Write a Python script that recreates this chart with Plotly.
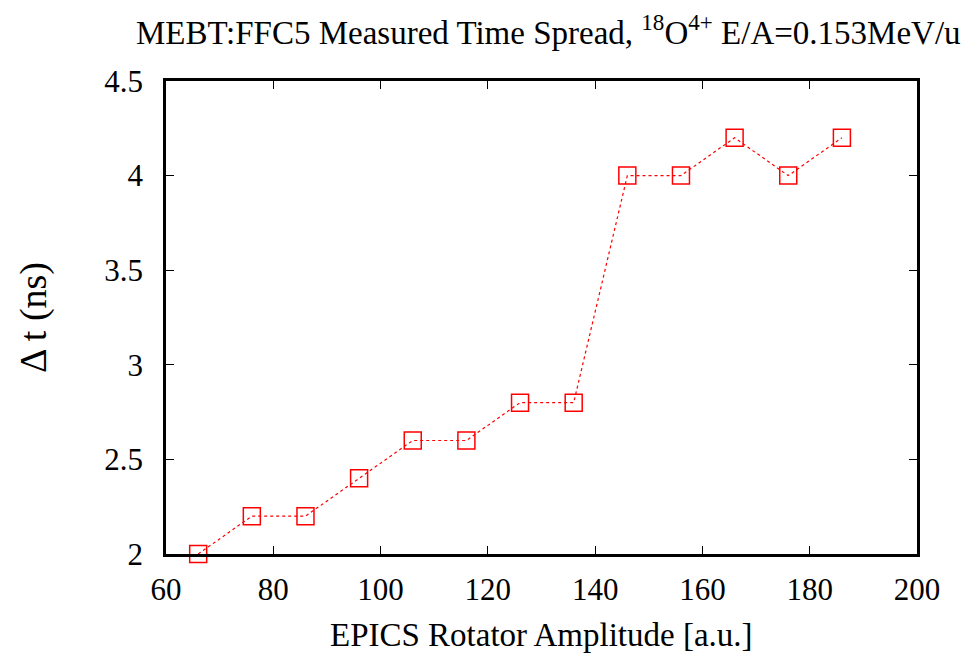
import plotly.graph_objects as go

amplitude = [66, 76, 86, 96, 106, 116, 126, 136, 146, 156, 166, 176, 186]
time_spread = [2.0, 2.2, 2.2, 2.4, 2.6, 2.6, 2.8, 2.8, 4.0, 4.0, 4.2, 4.0, 4.2]

x_ticks = [60, 80, 100, 120, 140, 160, 180, 200]
y_ticks = [2, 2.5, 3, 3.5, 4, 4.5]
y_tick_text = ["2", "2.5", "3", "3.5", "4", "4.5"]

font_family = "Liberation Serif, Times New Roman, serif"

# page body has an 8px margin; compensate so the plot lands where the reference has it
OFF = 8
L, R, T, B = 166 - OFF, 974 - 917 + OFF, 81 - OFF, 659 - 554 + OFF
W, H = 974, 659
pw, ph = W - L - R, H - T - B


def px_to_paper_x(ax):
    return (ax - OFF - L) / pw


def px_to_paper_y(ay):
    return (H - B - (ay - OFF)) / ph


fig = go.Figure()
fig.add_trace(go.Scatter(
    x=amplitude, y=time_spread, mode="lines+markers",
    line=dict(color="red", width=1.2, dash="dot"),
    marker=dict(symbol="square-open", size=17, color="red", line=dict(width=1.5, color="red")),
    showlegend=False, cliponaxis=False,
))

axis_common = dict(
    showgrid=False, zeroline=False, showline=True, linecolor="black", linewidth=2.5,
    mirror="ticks", ticks="inside", ticklen=8, tickwidth=1.2, tickcolor="black",
    tickfont=dict(family=font_family, size=31, color="black"),
)

fig.update_layout(
    width=W, height=H,
    paper_bgcolor="white", plot_bgcolor="white",
    margin=dict(l=L, r=R, t=T, b=B),
    font=dict(family=font_family, color="black"),
    xaxis=dict(range=[60, 200], tickvals=x_ticks, ticklabelstandoff=6, **axis_common),
    yaxis=dict(range=[2, 4.5], tickvals=y_ticks, ticktext=y_tick_text, ticklabelstandoff=14, **axis_common),
    annotations=[
        dict(text="MEBT:FFC5 Measured Time Spread, <sup>18</sup>O<sup>4+</sup> E/A=0.153MeV/u",
             xref="paper", yref="paper", x=px_to_paper_x(548), y=px_to_paper_y(30),
             xanchor="center", yanchor="middle", showarrow=False,
             font=dict(family=font_family, size=33, color="black")),
        dict(text="EPICS Rotator Amplitude [a.u.]",
             xref="paper", yref="paper", x=px_to_paper_x(541), y=px_to_paper_y(635),
             xanchor="center", yanchor="middle", showarrow=False,
             font=dict(family=font_family, size=33, color="black")),
        dict(text="Δ t (ns)", textangle=-90,
             xref="paper", yref="paper", x=px_to_paper_x(33), y=px_to_paper_y(318),
             xanchor="center", yanchor="middle", showarrow=False,
             font=dict(family=font_family, size=38, color="black")),
    ],
)

fig.write_html("out.html")
